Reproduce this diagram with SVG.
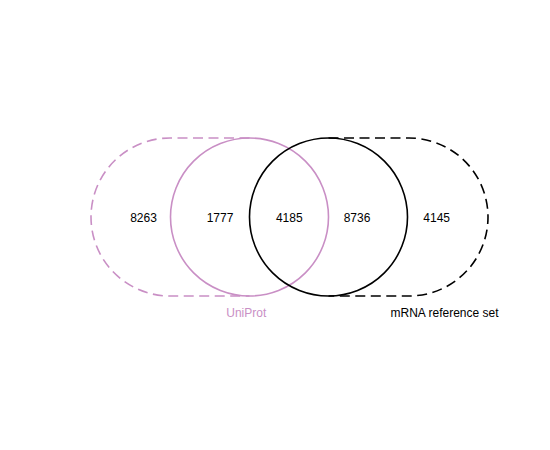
<svg xmlns="http://www.w3.org/2000/svg" width="550" height="450" viewBox="0 0 550 450">
<style>
.pink{fill:none;stroke:#c98fc5;stroke-width:1.6}
.blk{fill:none;stroke:#000;stroke-width:1.6}
.dash{stroke-dasharray:10,5.5}
text{font-family:"Liberation Sans",Arial,sans-serif;font-size:12px;text-anchor:middle}
</style>
<rect width="550" height="450" fill="#fff"/>
<g id="connectors">
<path id="uniprot-extra" class="pink dash" d="M249.5,138 H170 A79,79 0 0 0 170,296 H249.5"/>
<path id="mrna-extra" class="blk dash" d="M328.5,138 H409 A79,79 0 0 1 409,296 H328.5"/>
</g>
<g id="uniprot">
<circle class="pink" cx="249.5" cy="217" r="79"/>
<text x="246.3" y="316.5" fill="#c98fc5">UniProt</text>
</g>
<g id="mrna">
<circle class="blk" cx="328.5" cy="217" r="79"/>
<text x="444.5" y="316.5">mRNA reference set</text>
</g>
<g id="counts">
<text x="143.5" y="221.5">8263</text>
<text x="220" y="221.5">1777</text>
<text x="289.3" y="221.5">4185</text>
<text x="357" y="221.5">8736</text>
<text x="436.7" y="221.5">4145</text>
</g>
</svg>
